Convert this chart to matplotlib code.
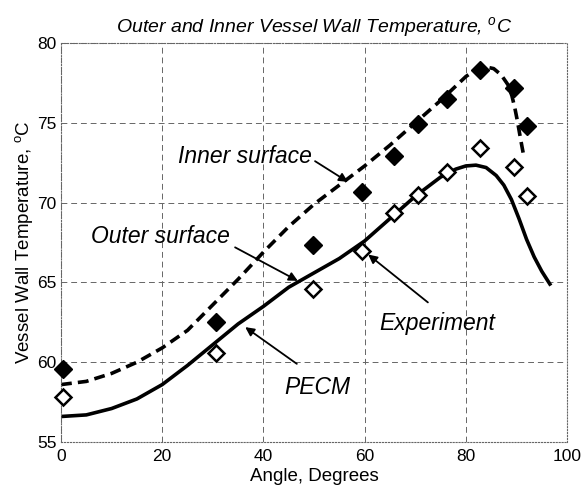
import matplotlib
matplotlib.use("Agg")
import matplotlib.pyplot as plt

plt.rcParams["font.family"] = ["Liberation Sans", "DejaVu Sans"]
plt.rcParams["mathtext.fontset"] = "custom"
plt.rcParams["mathtext.rm"] = "Liberation Sans"
plt.rcParams["mathtext.it"] = "Liberation Sans:italic"

# PECM model curves
outer_x = [0, 5, 10, 15, 20, 25, 30, 35, 40, 45, 50, 55, 60, 65, 70, 75, 78, 80, 82, 84, 86, 87.5, 89, 90.5, 92, 93.5, 95, 96.6]
outer_y = [56.6, 56.7, 57.1, 57.7, 58.6, 59.8, 61.1, 62.4, 63.5, 64.7, 65.6, 66.5, 67.6, 69.0, 70.4, 71.6, 72.1, 72.3, 72.35, 72.2, 71.7, 71.1, 70.2, 69.0, 67.7, 66.6, 65.7, 64.9]

inner_x = [0, 5, 10, 15, 20, 25, 30, 35, 40, 45, 50, 55, 60, 65, 70, 75, 78, 80, 82, 84, 85.5, 87, 88.3, 89.1, 89.7, 90.2, 90.7, 91.1, 91.4]
inner_y = [58.6, 58.8, 59.3, 60.0, 60.9, 62.0, 63.6, 65.2, 66.9, 68.5, 69.9, 71.1, 72.3, 73.6, 75.0, 76.4, 77.3, 77.9, 78.35, 78.5, 78.4, 78.0, 77.4, 76.7, 75.9, 75.1, 74.2, 73.5, 73.0]

# experiment points
exp_x = [0.3, 30.7, 49.7, 59.4, 65.8, 70.5, 76.3, 82.7, 89.6, 92.1]
exp_inner = [59.6, 62.5, 67.35, 70.65, 72.95, 74.9, 76.5, 78.3, 77.2, 74.8]
exp_outer = [57.8, 60.55, 64.6, 66.95, 69.35, 70.5, 71.9, 73.4, 72.25, 70.4]

fig = plt.figure(figsize=(5.81, 4.95), dpi=100)
ax = fig.add_axes([0.105, 0.107, 0.871, 0.806])

ax.plot(outer_x, outer_y, color="black", lw=2.6, solid_joinstyle="round")
ax.plot(inner_x, inner_y, color="black", lw=2.6, dashes=(3, 1.7))
ax.plot(exp_x, exp_inner, "D", color="black", ms=9, ls="none", clip_on=False, zorder=3)
ax.plot(exp_x, exp_outer, "D", mfc="white", mec="black", mew=1.8, ms=8, ls="none", clip_on=False, zorder=3)

arrow = dict(arrowstyle="-|>", color="black", lw=1.3, mutation_scale=13, shrinkA=0, shrinkB=0)
fs = 16.5
ax.text(36.4, 72.9, "Inner surface", style="italic", fontsize=fs, ha="center", va="center")
ax.annotate("", xy=(56.7, 71.3), xytext=(50.2, 72.6), arrowprops=arrow)
ax.text(19.6, 67.9, "Outer surface", style="italic", fontsize=fs, ha="center", va="center")
ax.annotate("", xy=(46.8, 65.1), xytext=(34.4, 67.2), arrowprops=arrow)
ax.text(74.3, 62.4, "Experiment", style="italic", fontsize=fs, ha="center", va="center")
ax.annotate("", xy=(60.7, 66.75), xytext=(72.5, 63.75), arrowprops=arrow)
ax.text(50.6, 58.4, "PECM", style="italic", fontsize=fs, ha="center", va="center")
ax.annotate("", xy=(36.4, 62.2), xytext=(46.6, 59.9), arrowprops=arrow)

ax.set_xlim(0, 100)
ax.set_ylim(55, 80)
ax.set_xticks([0, 20, 40, 60, 80, 100])
ax.set_yticks([55, 60, 65, 70, 75, 80])
ax.tick_params(axis="both", length=0, labelsize=12.5)
ax.tick_params(axis="x", pad=5)
ax.tick_params(axis="y", pad=3)
ax.grid(True, color="#666666", lw=0.7, ls=(0, (6, 4)))
for s in ax.spines.values():
    s.set_color("#666666")
    s.set_linewidth(0.8)
    s.set_linestyle(":")

ax.set_xlabel("Angle, Degrees", fontsize=13.5, labelpad=3)
ax.set_ylabel("Vessel Wall Temperature, $^{\\mathrm{o}}$C", fontsize=13.5, labelpad=2)
ax.set_title("Outer and Inner Vessel Wall Temperature, $^o$C", style="italic", fontsize=14, pad=8)

fig.savefig("out.png", dpi=100)
